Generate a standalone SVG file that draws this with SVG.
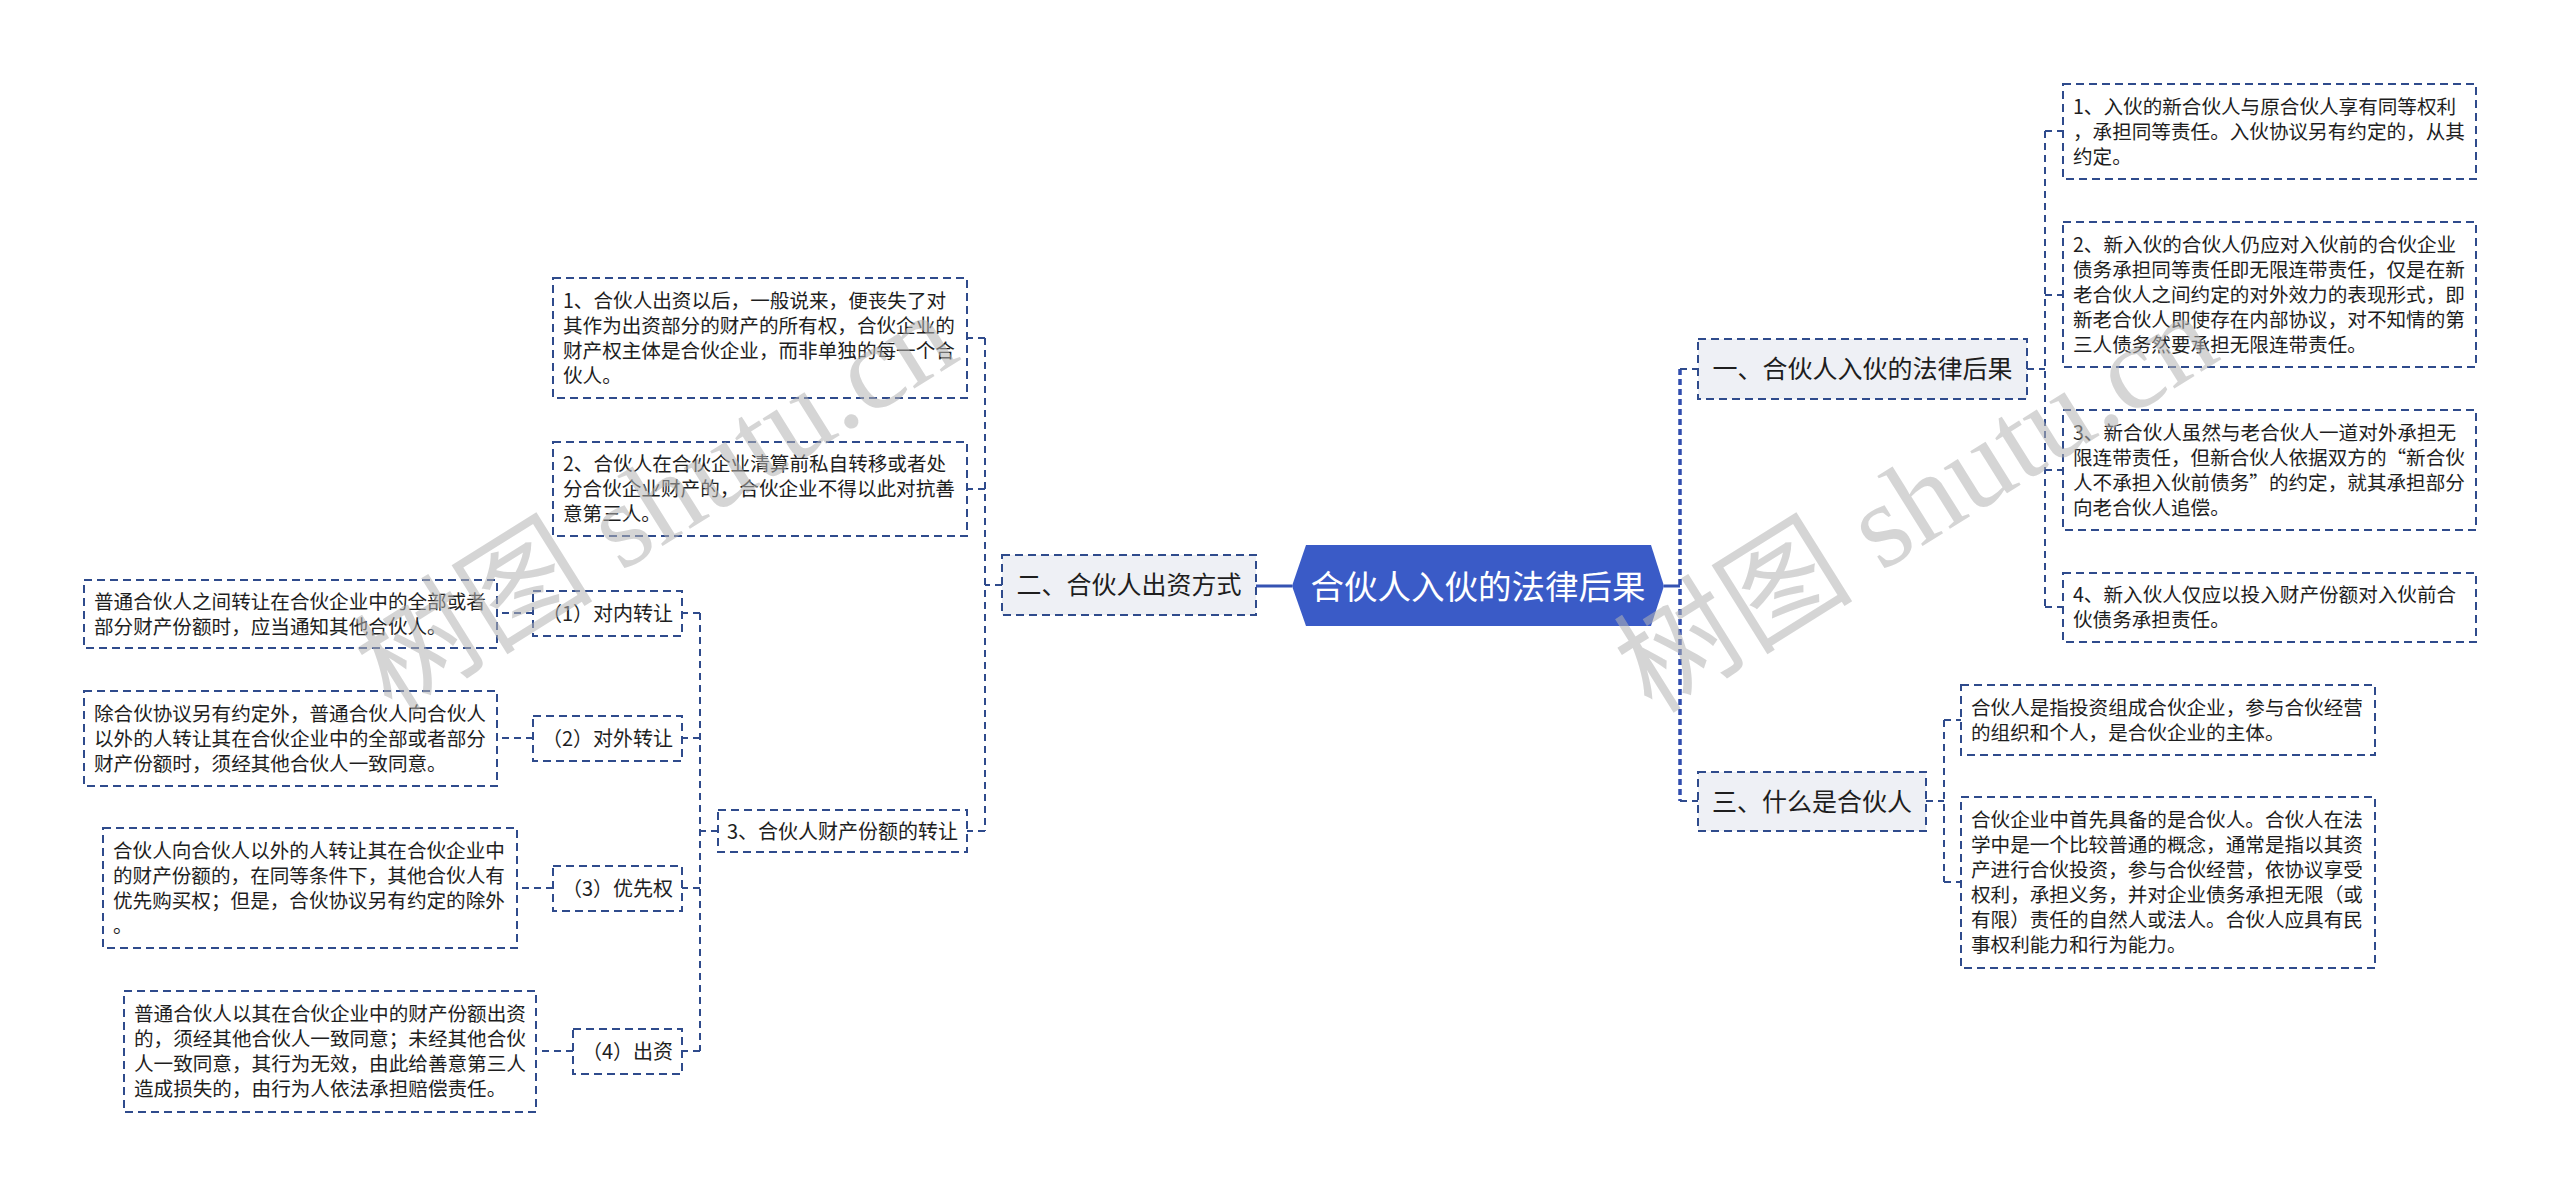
<svg xmlns="http://www.w3.org/2000/svg" width="2560" height="1196" viewBox="0 0 2560 1196">
<style>
.bg{fill:#ffffff}
.box{fill:#ffffff;stroke:#2f4b8c;stroke-width:2;stroke-dasharray:8 5}
.b1{fill:#eef0f5}
.t{font-family:"Noto Sans CJK SC","Liberation Sans",sans-serif;font-size:19.6px;fill:#1e1e1e}
.s{font-size:20px;text-anchor:middle}
.bt{font-size:25px;text-anchor:middle}
.rt{font-family:"Noto Sans CJK SC","Liberation Sans",sans-serif;font-size:33.5px;fill:#ffffff;text-anchor:middle}
.ln{fill:none;stroke:#2f4b8c;stroke-width:2;stroke-dasharray:7 5}
.trunk{fill:none;stroke:#2f4cae;stroke-width:3.5;stroke-dasharray:6 4}
.solid{fill:none;stroke:#3552b2;stroke-width:3}
.wm{font-family:"Liberation Serif","Noto Sans CJK SC",serif;font-size:120px;fill:#b4b4b4;opacity:0.55}
</style>
<rect class="bg" x="0" y="0" width="2560" height="1196"/>

<g id="connectors">
  <path class="solid" d="M1256 586 H1292"/>
  <path class="solid" d="M1664 586 H1680"/>
  <path class="trunk" d="M1680 369 V801"/>
  <path class="ln" d="M1680 369 H1698 M1680 801 H1698"/>
  <path class="ln" d="M2027 369 H2045 M2045 131 V607 M2045 131 H2063 M2045 295 H2063 M2045 470 H2063 M2045 607 H2063"/>
  <path class="ln" d="M1926 801 H1944 M1944 720 V882 M1944 720 H1961 M1944 882 H1961"/>
  <path class="ln" d="M1002 585 H985 M985 338 V831 M985 338 H967 M985 489 H967 M985 831 H967"/>
  <path class="ln" d="M718 831 H700 M700 613 V1051 M700 613 H682 M700 738 H682 M700 888 H682 M700 1051 H682"/>
  <path class="ln" d="M533 613 H497 M533 738 H497 M553 888 H517 M573 1051 H536"/>
</g>

<g id="root">
  <polygon points="1292,586 1306,545 1651,545 1664,586 1651,626 1306,626" fill="#3a5bc7"/>
  <text class="rt" x="1478" y="598.5">合伙人入伙的法律后果</text>
</g>

<g id="branch-2">
  <rect class="box b1" x="1002" y="555" width="254" height="60"/>
  <text class="t bt" x="1129" y="594">二、合伙人出资方式</text>
</g>

<g id="branch-1">
  <rect class="box b1" x="1698" y="339" width="329" height="60"/>
  <text class="t bt" x="1862.5" y="378">一、合伙人入伙的法律后果</text>
</g>

<g id="branch-3">
  <rect class="box b1" x="1698" y="772" width="228" height="59"/>
  <text class="t bt" x="1812" y="810.5">三、什么是合伙人</text>
</g>

<g id="r-leaf-1">
  <rect class="box" x="2063" y="84" width="413" height="95"/>
  <text class="t"><tspan x="2073" y="113.5">1、入伙的新合伙人与原合伙人享有同等权利</tspan><tspan x="2073" y="138.5">，承担同等责任。入伙协议另有约定的，从其</tspan><tspan x="2073" y="163.5">约定。</tspan></text>
</g>

<g id="r-leaf-2">
  <rect class="box" x="2063" y="222" width="413" height="145"/>
  <text class="t"><tspan x="2073" y="251.5">2、新入伙的合伙人仍应对入伙前的合伙企业</tspan><tspan x="2073" y="276.5">债务承担同等责任即无限连带责任，仅是在新</tspan><tspan x="2073" y="301.5">老合伙人之间约定的对外效力的表现形式，即</tspan><tspan x="2073" y="326.5">新老合伙人即使存在内部协议，对不知情的第</tspan><tspan x="2073" y="351.5">三人债务然要承担无限连带责任。</tspan></text>
</g>

<g id="r-leaf-3">
  <rect class="box" x="2063" y="410" width="413" height="120"/>
  <text class="t"><tspan x="2073" y="439.5">3、新合伙人虽然与老合伙人一道对外承担无</tspan><tspan x="2073" y="464.5">限连带责任，但新合伙人依据双方的“新合伙</tspan><tspan x="2073" y="489.5">人不承担入伙前债务”的约定，就其承担部分</tspan><tspan x="2073" y="514.5">向老合伙人追偿。</tspan></text>
</g>

<g id="r-leaf-4">
  <rect class="box" x="2063" y="573" width="413" height="69"/>
  <text class="t"><tspan x="2073" y="602">4、新入伙人仅应以投入财产份额对入伙前合</tspan><tspan x="2073" y="627">伙债务承担责任。</tspan></text>
</g>

<g id="r-leaf-a">
  <rect class="box" x="1961" y="685" width="414" height="70"/>
  <text class="t"><tspan x="1971" y="714.5">合伙人是指投资组成合伙企业，参与合伙经营</tspan><tspan x="1971" y="739.5">的组织和个人，是合伙企业的主体。</tspan></text>
</g>

<g id="r-leaf-b">
  <rect class="box" x="1961" y="797" width="414" height="171"/>
  <text class="t"><tspan x="1971" y="827">合伙企业中首先具备的是合伙人。合伙人在法</tspan><tspan x="1971" y="852">学中是一个比较普通的概念，通常是指以其资</tspan><tspan x="1971" y="877">产进行合伙投资，参与合伙经营，依协议享受</tspan><tspan x="1971" y="902">权利，承担义务，并对企业债务承担无限（或</tspan><tspan x="1971" y="927">有限）责任的自然人或法人。合伙人应具有民</tspan><tspan x="1971" y="952">事权利能力和行为能力。</tspan></text>
</g>

<g id="l-leaf-1">
  <rect class="box" x="553" y="278" width="414" height="120"/>
  <text class="t"><tspan x="563" y="307.5">1、合伙人出资以后，一般说来，便丧失了对</tspan><tspan x="563" y="332.5">其作为出资部分的财产的所有权，合伙企业的</tspan><tspan x="563" y="357.5">财产权主体是合伙企业，而非单独的每一个合</tspan><tspan x="563" y="382.5">伙人。</tspan></text>
</g>

<g id="l-leaf-2">
  <rect class="box" x="553" y="442" width="414" height="94"/>
  <text class="t"><tspan x="563" y="471">2、合伙人在合伙企业清算前私自转移或者处</tspan><tspan x="563" y="496">分合伙企业财产的，合伙企业不得以此对抗善</tspan><tspan x="563" y="521">意第三人。</tspan></text>
</g>

<g id="l-node-3">
  <rect class="box" x="718" y="810" width="249" height="42"/>
  <text class="t s" x="842.5" y="838.5">3、合伙人财产份额的转让</text>
</g>

<g id="sub-1">
  <rect class="box" x="533" y="591" width="149" height="45"/>
  <text class="t s" x="607.5" y="620.5">（1）对内转让</text>
</g>
<g id="sub-2">
  <rect class="box" x="533" y="716" width="149" height="45"/>
  <text class="t s" x="607.5" y="745.5">（2）对外转让</text>
</g>
<g id="sub-3">
  <rect class="box" x="553" y="866" width="129" height="45"/>
  <text class="t s" x="617.5" y="895.5">（3）优先权</text>
</g>
<g id="sub-4">
  <rect class="box" x="573" y="1029" width="109" height="45"/>
  <text class="t s" x="627.5" y="1058.5">（4）出资</text>
</g>

<g id="sub-leaf-1">
  <rect class="box" x="84" y="580" width="413" height="68"/>
  <text class="t"><tspan x="94" y="608.5">普通合伙人之间转让在合伙企业中的全部或者</tspan><tspan x="94" y="633.5">部分财产份额时，应当通知其他合伙人。</tspan></text>
</g>
<g id="sub-leaf-2">
  <rect class="box" x="84" y="691" width="413" height="95"/>
  <text class="t"><tspan x="94" y="720.5">除合伙协议另有约定外，普通合伙人向合伙人</tspan><tspan x="94" y="745.5">以外的人转让其在合伙企业中的全部或者部分</tspan><tspan x="94" y="770.5">财产份额时，须经其他合伙人一致同意。</tspan></text>
</g>
<g id="sub-leaf-3">
  <rect class="box" x="103" y="828" width="414" height="120"/>
  <text class="t"><tspan x="113" y="857.5">合伙人向合伙人以外的人转让其在合伙企业中</tspan><tspan x="113" y="882.5">的财产份额的，在同等条件下，其他合伙人有</tspan><tspan x="113" y="907.5">优先购买权；但是，合伙协议另有约定的除外</tspan><tspan x="113" y="932.5">。</tspan></text>
</g>
<g id="sub-leaf-4">
  <rect class="box" x="124" y="991" width="412" height="121"/>
  <text class="t"><tspan x="134" y="1021">普通合伙人以其在合伙企业中的财产份额出资</tspan><tspan x="134" y="1046">的，须经其他合伙人一致同意；未经其他合伙</tspan><tspan x="134" y="1071">人一致同意，其行为无效，由此给善意第三人</tspan><tspan x="134" y="1096">造成损失的，由行为人依法承担赔偿责任。</tspan></text>
</g>

<g id="watermark">
  <text class="wm" transform="translate(392 715) rotate(-32)">树图 shutu.cn</text>
  <text class="wm" transform="translate(1652 715) rotate(-32)">树图 shutu.cn</text>
</g>
</svg>
